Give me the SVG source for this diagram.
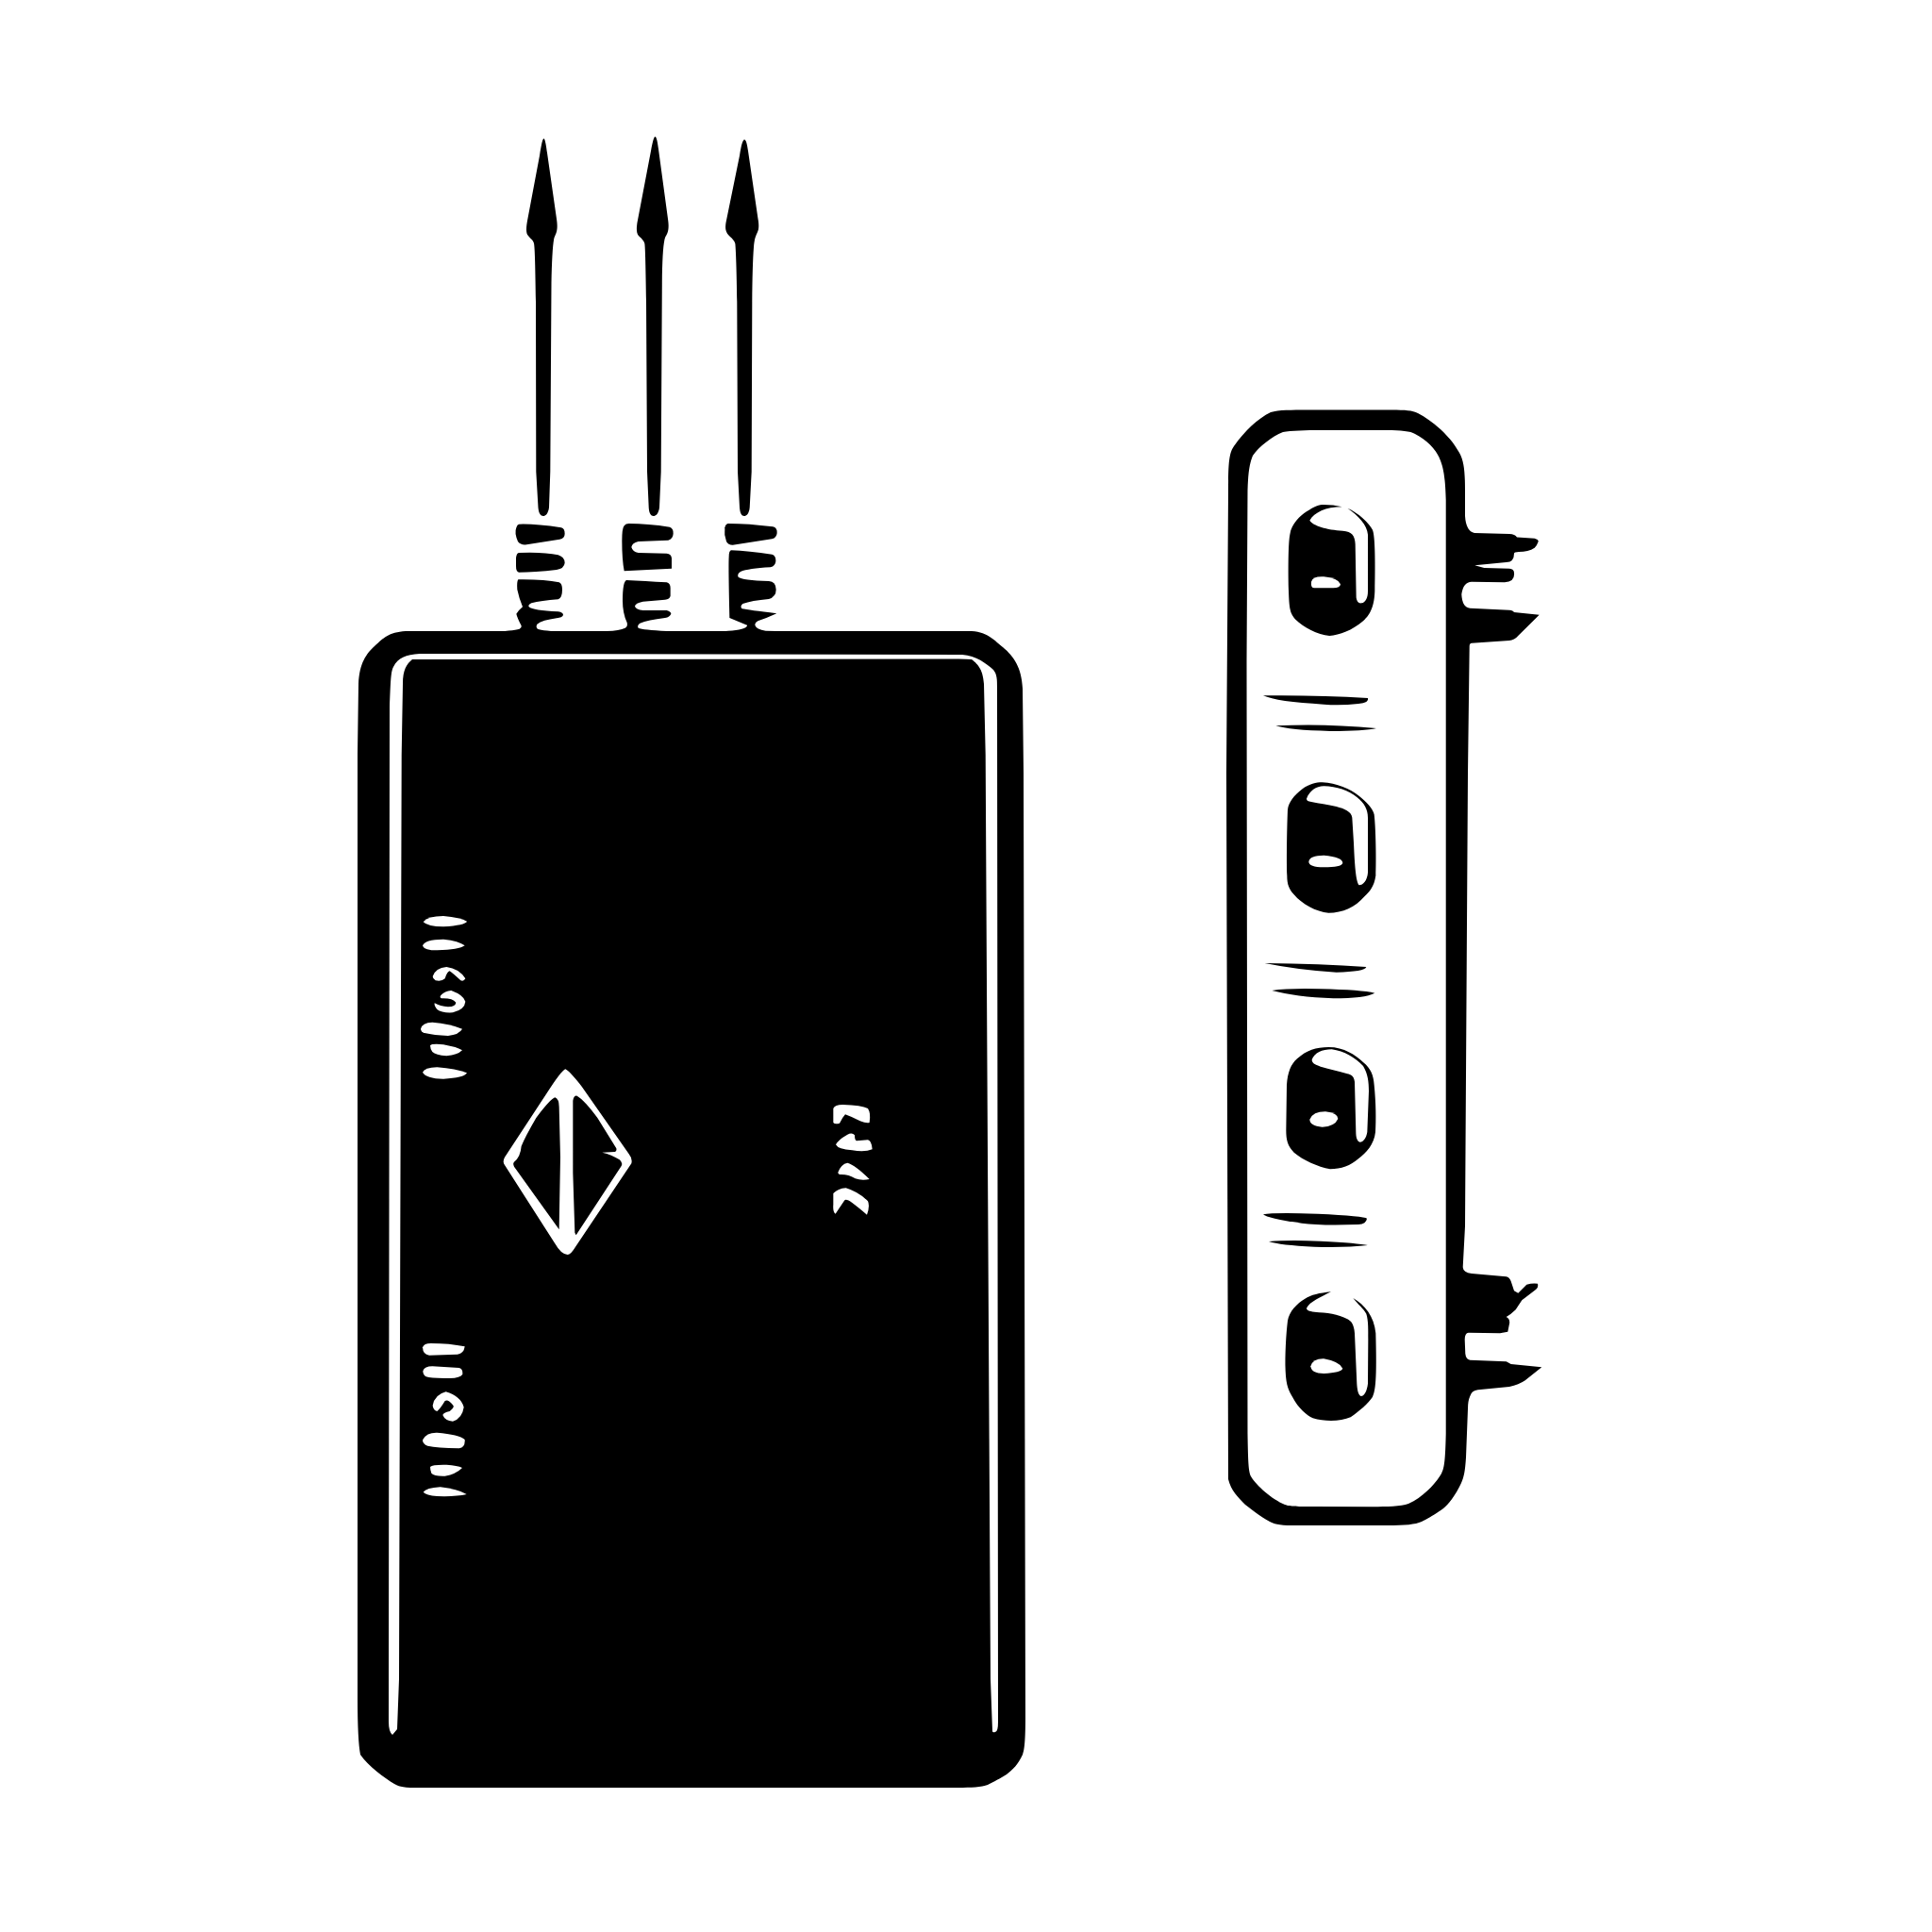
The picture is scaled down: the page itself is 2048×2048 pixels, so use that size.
<svg xmlns="http://www.w3.org/2000/svg" width="2048" height="2048" viewBox="0 0 2048 2048">
<style>.k{fill:#000}.w{fill:#fff}</style>
<rect width="2048" height="2048" fill="#fff"/>
<g id="probes" class="k">
<path d="M576.300 146.700C578 147 579 155 580 162L590 232C592 245 589 248 587.500 252C586 258 585 275 584.500 300L583.300 500L582 538C581 545 578 547 576 547C573 547 571 544 570.500 538L568.300 500L568 320C567.500 285 567 262 566 258C565 254 562 253 560 250C557 247 558 240 559 234L572 165C574 152 575 148 576.300 146.700Z"/>
<path d="M694.300 144.700C696 145 697 150 698 158L708 232C710 245 707 248 705 252C703 258 702 275 701.800 300L700.700 500L699 538C698 545 695 547 692.700 547C690 547 688 544 687.700 538L686 500L685 320C684.500 285 684 262 683.300 258C682 254 679 252 677 250C674 247 675 240 675.500 236L690 160C692 149 693 146 694.300 144.700Z"/>
<path d="M789 148C791 148 792 153 793 160L803.500 232C805 240 804 244 803 246C800 252 799.500 256 799 262C798 275 797.500 295 797.300 320L796.700 500L794.700 538C794 545 791 547 789 547C786 547 784.500 544 784 538L782 500L781.300 320C781 290 780 262 779.300 258C778 254 775 252 773 250C768 245 769 240 769.500 236L784 165C786 153 787 149 789 148Z"/>
</g>
<g id="pads-left" class="k" transform="translate(500 500) scale(.33333)">
<path d="M150 167Q200 165 285 178Q296 181 296 197Q296 212 280 215L175 232Q155 234 147 222Q135 195 142 178Q145 168 150 167Z"/>
<path d="M150 258Q230 255 275 265Q296 272 296 290Q294 308 270 312Q200 320 150 320Q141 318 141 300L141 275Q142 260 150 258Z"/>
<path d="M148 343Q230 342 278 352Q288 356 288 375Q288 402 275 406Q220 410 190 418Q178 424 182 430Q195 442 275 445Q292 448 291 456Q288 464 270 466Q225 472 208 485Q203 494 210 500Q225 507 300 508L300 530L60 530L60 508Q130 507 152 500Q160 495 158 490Q145 465 142 452Q150 440 162 430Q150 400 145 375Q143 350 148 343Z"/>
</g>
<g id="pads-middle" class="k" transform="translate(500 500) scale(.33333)">
<path d="M500 165Q560 165 630 176Q642 180 641 197Q640 214 625 218L530 222Q510 226 508 240Q512 255 530 258L620 260Q635 262 636 275L636 308L485 316Q478 280 478 220Q478 180 485 172Q490 165 500 165Z"/>
<path d="M492 345Q550 348 620 352Q632 355 632 370L632 395Q630 405 615 407L545 413Q520 418 519 428Q522 438 545 441L620 441Q635 446 634 452Q630 462 615 465Q560 472 535 482Q525 490 530 497Q545 503 620 507L700 507L700 530L430 530L430 507Q470 506 488 497Q497 492 494 480Q480 450 480 410Q480 350 492 345Z"/>
</g>
<g id="pads-right" class="k" transform="translate(500 500) scale(.33333)">
<path d="M815 165Q880 165 958 175Q972 178 971 195Q970 210 955 214L830 233Q815 233 810 222Q802 200 805 178Q808 166 815 165Z"/>
<path d="M825 250Q880 252 955 263Q968 267 967 285Q966 300 950 304Q880 308 855 318Q843 325 848 335Q860 345 945 348Q968 350 968 375Q968 398 945 405Q890 410 862 420Q852 428 860 436Q880 440 970 451Q940 465 910 475Q898 482 902 490Q905 502 935 506L1000 508L1000 530L780 530L780 508Q850 507 872 495Q878 490 876 488L820 465Q816 300 818 270Q818 252 825 250Z"/>
</g>
<g id="body">
<path class="k" d="M430 669L1030 669C1048 670 1055 680 1063 686C1075 696 1083 708 1084 730L1085 820L1087 1820C1087 1845 1086 1855 1084 1860C1075 1880 1060 1885 1047 1892C1040 1895 1025 1895 1010 1895L440 1895C425 1895 422 1893 418 1891C408 1885 390 1872 382 1860C380 1850 379 1830 379 1800L379 800L380 725C381 703 388 693 398 684C406 677 412 670 430 669Z"/>
<path class="w" d="M416 1839Q412 1836 412 1825L413 750C414 725 414 712 417 707C422 697 430 694 445 693L1020 694C1035 695 1045 703 1053 710C1057 715 1057 720 1057 730L1058 1825Q1058 1836 1055 1836Q1052 1837 1052 1835L1050 1780L1044.700 800L1043 725C1042 708 1035 703 1030 699Q1025 698.500 1015 698.500L437 699C431 704 427 710 427 725L425.700 800L423 1780L421 1833Z"/>
</g>
<g id="upper-marks" class="w" transform="translate(430 950) scale(.33333)">
<path d="M56 82Q70 63 120 63Q175 68 195 80Q190 92 120 97Q70 97 56 82Z"/>
<path d="M54 158Q60 137 120 137Q170 142 188 157Q170 170 100 172Q60 172 54 158Z"/>
<path d="M86 255Q95 228 130 225Q170 230 190 262Q185 272 175 268Q150 245 140 238Q132 240 125 262Q115 272 95 268Q86 262 86 255Z"/>
<path d="M92 340Q110 350 135 352Q160 350 160 338Q150 325 120 325Q105 325 112 315Q125 302 145 300Q185 315 190 335Q188 360 150 370Q115 372 100 360Q90 348 92 340Z"/>
<path d="M48 422Q52 402 85 401Q140 405 180 422Q170 440 135 444Q90 442 60 435Q48 430 48 422Z"/>
<path d="M78 475Q85 468 120 472Q165 480 180 490Q165 505 130 508Q95 505 85 495Q78 485 78 475Z"/>
<path d="M54 560Q60 545 100 544Q160 548 195 562Q185 578 120 581Q65 580 54 560Z"/>
</g>
<g id="lower-marks" class="w" transform="translate(430 1400) scale(.33333)">
<path d="M54 85Q58 72 80 72Q140 72 188 82Q185 105 165 107L75 110Q55 108 54 85Z"/>
<path d="M55 160Q60 145 85 145L170 150Q182 152 181 170Q175 182 140 183Q80 184 65 178Q55 172 55 160Z"/>
<path d="M86 270Q92 235 128 226Q175 240 185 275Q180 310 150 320Q125 318 118 300Q120 292 140 288Q158 275 150 268Q135 248 125 255Q110 280 100 288Q88 285 86 270Z"/>
<path d="M54 380Q65 355 100 356Q170 362 188 378Q190 402 170 406Q100 405 70 398Q55 392 54 380Z"/>
<path d="M78 465Q85 457 130 458Q165 460 180 468Q160 488 125 494Q90 495 82 485Q78 475 78 465Z"/>
<path d="M56 545Q65 532 110 529Q165 535 194 552Q160 560 100 558Q65 555 56 545Z"/>
</g>
<g id="diamond" transform="translate(520 1110) scale(.33333)">
<path class="w" d="M238 70Q250 75 290 125L440 340Q452 355 448 370L270 635Q255 660 245 660Q225 660 205 625L45 375Q37 365 45 350L180 145Q225 75 238 70Z"/>
<path class="k" d="M205 160Q218 165 218 190L222 350L218 580L75 380Q70 370 75 365Q95 350 98 315Q110 285 145 225Q190 165 205 160Z"/>
<path class="k" d="M262 170Q265 153 275 155Q300 170 340 225L400 322Q402 332 395 333L355 335Q385 342 410 358Q422 368 416 378L272 598L268 590L262 400Z"/>
</g>
<g id="right-marks" class="w" transform="translate(520 1110) scale(.33333)">
<path d="M1090 195Q1095 183 1120 183Q1180 185 1200 195Q1210 210 1205 240Q1195 243 1175 235Q1150 222 1128 214Q1118 225 1110 242Q1095 247 1090 240Z"/>
<path d="M1098 310Q1105 295 1135 278Q1150 270 1158 280Q1158 298 1165 298L1200 295Q1212 298 1214 325Q1190 335 1150 328Q1105 325 1098 310Z"/>
<path d="M1105 398Q1115 372 1135 368Q1160 375 1205 420Q1180 425 1160 418Q1140 405 1115 405Q1105 405 1105 398Z"/>
<path d="M1090 465Q1105 450 1130 448Q1170 460 1200 490Q1207 505 1197 533Q1170 510 1150 495Q1130 480 1125 488Q1110 510 1097 530Q1088 525 1090 500Z"/>
</g>
<g id="unit">
<path class="k" d="M1347 437C1355 434.500 1370 434.500 1385 434.500L1475 434.500C1490 434.500 1497 435 1503 438C1520 447 1538 463 1547 480C1552 489 1553 500 1553 520L1553 547Q1554 563 1563 565L1600 566Q1606 566 1608 569.500L1626.700 570.700Q1631 572 1630.700 574Q1629 579 1626.700 580.700Q1620 585 1610 585Q1605 585 1605 586.700Q1605 596 1596.700 596L1563.300 599.300L1573.300 602L1600 602.700Q1605 603 1605 607.300Q1606 617 1595 617.300L1560 616.700Q1551 617 1549.300 630Q1550 644 1558.300 644.700L1600 646.700Q1604 647 1605 649L1631.700 651.700L1610 673.300Q1605 679 1600 679L1560 681.700Q1557.700 682 1557.700 685L1556 820L1553 1300L1550.700 1343.300Q1551 1349 1560 1350L1596.700 1353.300Q1600 1354 1601.700 1358.300L1605 1368.300L1609.300 1370.700L1618.300 1361.700Q1624 1360 1630 1360.700Q1631 1365 1628.300 1366.700L1613.300 1378.300L1606.700 1388.300Q1602 1393 1596.700 1396Q1601 1398 1600 1403.300L1598.300 1411.700L1590 1413.300L1556.700 1412.700Q1552.700 1413 1552.700 1420L1553.300 1435Q1554 1441 1558.300 1441.700L1596.700 1443.300L1601.700 1446L1634.300 1449.300L1616.700 1463.300Q1610 1468 1600 1470L1566.700 1473.300Q1560 1474 1558.300 1480Q1556 1485 1556 1493.300L1554 1545C1553 1560 1552 1565 1549 1572C1543 1585 1535 1595 1530 1599C1520 1606 1513 1610 1507 1613C1500 1616 1490 1617 1470 1617L1370 1617C1355 1617 1350 1615 1346 1613C1335 1607 1328 1601 1320 1595C1312 1587 1305 1580 1302 1568L1300 820L1302 520C1302 490 1303 480 1308 473C1320 456 1333 444 1347 437Z"/>
<path class="w" d="M1321.500 700L1322.500 520C1323 500 1325 490 1328 483C1335 473 1348 463 1360 458C1368 456.500 1385 456 1400 456L1470 456C1485 456 1495 457 1500 460C1512 466 1522 476 1526 486C1530 495 1532 505 1532.700 530L1532.700 1520C1532 1550 1531 1556 1528 1562C1522 1572 1510 1586 1493 1594C1485 1597 1470 1597 1455 1597.300L1395 1597C1375 1597 1368 1597 1362 1595C1348 1589 1332 1575 1326 1565C1323.500 1560 1323 1550 1322.500 1520Z"/>
</g>
<g id="button-1" class="k" transform="translate(1280 420) scale(.33333)">
<path d="M370 345Q400 345 428 352C375 352 340 370 325 395C335 412 380 425 430 428C460 430 469 445 470 470L473 640C475 655 482 660 490 658C503 656 510 640 510 620L510 440C508 410 480 380 445 356C480 370 515 405 525 425C533 445 534 520 532 620C530 680 510 700 495 715C460 745 420 760 388 762C350 758 305 735 280 710C262 690 260 675 258 620C256 520 258 460 262 440C267 405 295 380 315 367C340 350 355 345 370 345Z"/>
<path class="w" d="M330 590Q335 572 370 574Q415 578 423 598Q422 610 400 610L340 610Q328 610 330 590Z"/>
<path d="M177 952Q350 950 510 960Q515 975 480 978Q420 985 370 980Q220 972 177 952Z"/>
<path d="M217 1048Q370 1040 537 1056Q500 1065 390 1065Q260 1062 217 1048Z"/>
</g>
<g id="button-2" class="k" transform="translate(1300 800) scale(.33333)">
<path d="M305 88C350 90 395 110 420 130C445 150 465 170 470 190C475 230 477 330 475 385C470 420 455 437 440 450C410 485 370 503 325 503C285 500 240 475 215 445C200 428 193 415 193 385C191 330 193 220 195 175C198 150 215 130 240 110C265 92 285 88 305 88Z"/>
<path class="w" d="M255 140C265 115 285 100 310 100C350 100 390 115 415 135C440 155 450 175 450 200L450 375C448 400 435 415 422 415C412 405 408 350 405 280L400 200C397 180 375 172 350 165C320 158 295 155 270 150C260 148 255 146 255 140Z"/>
<path class="w" d="M262 340Q265 320 310 320Q370 325 370 345Q365 358 310 358Q262 358 262 340Z"/>
<path d="M122 663Q300 665 445 675Q440 690 350 692Q230 685 122 663Z"/>
<path d="M145 750Q200 742 300 745Q430 748 472 758Q440 775 340 775Q220 770 145 750Z"/>
</g>
<g id="button-3" class="k" transform="translate(1300 1090) scale(.33333)">
<path d="M325 60C375 60 410 85 435 108C460 128 468 150 470 180C476 240 476 290 474 330C470 370 445 395 420 415C395 437 365 448 330 448C290 440 245 420 215 395C195 375 190 355 190 325L192 180C195 140 205 115 225 97C255 70 285 60 325 60Z"/>
<path class="w" d="M272 100C280 78 305 67 335 67C375 72 410 95 435 120C450 145 453 170 453 200L448 330C445 350 435 362 425 362C415 360 412 345 412 330L408 170C405 150 395 148 385 145C355 136 330 130 300 122C280 116 272 110 272 100Z"/>
<path class="w" d="M265 290Q275 265 315 265Q355 270 355 288Q345 312 305 314Q265 310 265 290Z"/>
<path d="M117 592Q150 585 290 590Q440 597 447 605Q445 622 420 624Q300 628 240 620Q130 605 117 592Z"/>
<path d="M135 678Q200 672 300 677Q420 683 450 690Q380 698 280 695Q170 690 135 678Z"/>
</g>
<g id="button-4" class="k" transform="translate(1300 1320) scale(.33333)">
<path d="M333 148C295 152 270 158 250 170C225 185 200 210 195 240C190 280 186 350 188 400C190 450 200 465 210 482C230 520 255 540 275 550C315 562 365 560 395 547C425 525 450 505 465 482C477 460 478 400 475 280C470 225 440 190 403 168C420 190 435 200 445 218C452 240 451 270 451 300L450 440C447 465 438 480 428 480C418 475 416 455 415 440L408 280C406 250 395 240 385 235C355 218 320 215 280 212C262 210 255 206 255 200C265 180 300 165 333 148Z"/>
<path class="w" d="M268 385Q275 360 310 361Q360 370 370 392Q365 405 310 408Q270 408 268 385Z"/>
</g>
</svg>
